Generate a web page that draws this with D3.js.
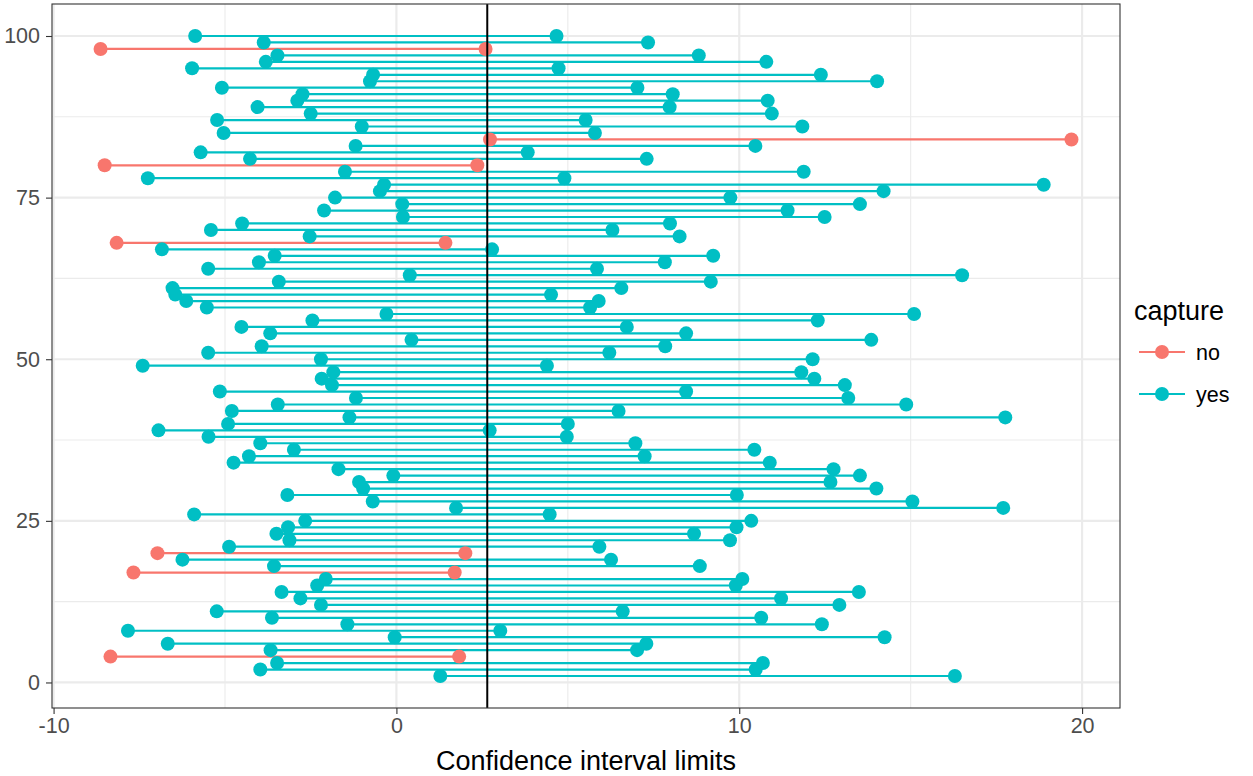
<!DOCTYPE html>
<html><head><meta charset="utf-8">
<script src="https://cdn.jsdelivr.net/npm/d3@7"></script>
<style>body{margin:0;background:#fff}</style>
</head><body>
<svg id="chart" width="1253" height="776"></svg>
<script>
// ---- data ----
const sampleId = [1,2,3,4,5,6,7,8,9,10,11,12,13,14,15,16,17,18,19,20,21,22,23,24,25,26,27,28,29,30,31,32,33,34,35,36,37,38,39,40,41,42,43,44,45,46,47,48,49,50,51,52,53,54,55,56,57,58,59,60,61,62,63,64,65,66,67,68,69,70,71,72,73,74,75,76,77,78,79,80,81,82,83,84,85,86,87,88,89,90,91,92,93,94,95,96,97,98,99,100];
const lower = [1.28,-3.97,-3.48,-8.34,-3.67,-6.67,-0.05,-7.83,-1.43,-3.63,
  -5.24,-2.20,-2.80,-3.35,-2.31,-2.06,-7.67,-3.57,-6.24,-6.97,
  -4.88,-3.12,-3.50,-3.16,-2.66,-5.90,1.74,-0.69,-3.18,-0.97,
  -1.09,-0.09,-1.69,-4.75,-4.30,-2.99,-3.97,-5.48,-6.94,-4.91,
  -1.37,-4.80,-3.46,-1.18,-5.15,-1.88,-2.18,-1.84,-7.40,-2.20,
  -5.49,-3.93,0.44,-3.68,-4.52,-2.45,-0.29,-5.53,-6.13,-6.45,
  -6.53,-3.43,0.39,-5.49,-4.01,-3.55,-6.84,-8.16,-2.53,-5.41,
  -4.50,0.19,-2.11,0.17,-1.79,-0.48,-0.36,-7.25,-1.50,-8.51,
  -4.27,-5.71,-1.19,2.73,-5.04,-1.01,-5.23,-2.50,-4.05,-2.89,
  -2.74,-5.09,-0.77,-0.68,-5.96,-3.81,-3.47,-8.63,-3.87,-5.87];
const upper = [16.29,10.48,10.69,1.83,7.02,7.29,14.24,3.03,12.41,10.64,
  6.60,12.92,11.22,13.49,9.90,10.09,1.70,8.85,6.26,2.01,
  5.92,9.73,8.68,9.92,10.35,4.47,17.70,15.05,9.93,14.00,
  12.66,13.52,12.75,10.89,7.24,10.44,6.97,4.97,2.72,5.00,
  17.76,6.48,14.87,13.18,8.45,13.08,12.19,11.81,4.39,12.14,
  6.21,7.84,13.85,8.45,6.72,12.29,15.10,5.65,5.90,4.51,
  6.56,9.17,16.50,5.85,7.83,9.24,2.79,1.43,8.26,6.30,
  7.98,12.49,11.41,13.52,9.74,14.21,18.88,4.90,11.88,2.36,
  7.30,3.83,10.47,19.69,5.79,11.84,5.52,10.95,7.97,10.83,
  8.06,7.03,14.02,12.38,4.73,10.79,8.82,2.60,7.34,4.67];
const capture = ["yes","yes","yes","no","yes","yes","yes","yes","yes","yes",
  "yes","yes","yes","yes","yes","yes","no","yes","yes","no",
  "yes","yes","yes","yes","yes","yes","yes","yes","yes","yes",
  "yes","yes","yes","yes","yes","yes","yes","yes","yes","yes",
  "yes","yes","yes","yes","yes","yes","yes","yes","yes","yes",
  "yes","yes","yes","yes","yes","yes","yes","yes","yes","yes",
  "yes","yes","yes","yes","yes","yes","yes","no","yes","yes",
  "yes","yes","yes","yes","yes","yes","yes","yes","yes","no",
  "yes","yes","yes","no","yes","yes","yes","yes","yes","yes",
  "yes","yes","yes","yes","yes","yes","yes","no","yes","yes"];
const trueMean = 2.65;
const captureLevels = ["no","yes"];
const captureColors = ["#F8766D","#00BFC4"];
const xTicks = [-10,0,10,20];
const xMinor = [-5,5,15];
const yTicks = [0,25,50,75,100];
const yMinor = [12.5,37.5,62.5,87.5];
const xTitle = "Confidence interval limits";
const legendTitle = "capture";

const rows = sampleId.map((id,i)=>({id, lo:lower[i], hi:upper[i], cap:capture[i]}));

// ---- layout ----
const svg = d3.select("#chart");
const P = {left:52, right:1120, top:4, bottom:708};
const FONT = "'Liberation Sans', Arial, Helvetica, sans-serif";

const xMin = d3.min(lower), xMax = d3.max(upper);
const xPad = (xMax-xMin)*0.05;
const x = d3.scaleLinear().domain([xMin-xPad, xMax+xPad]).range([P.left, P.right]);
const yMinV = d3.min(sampleId), yMaxV = d3.max(sampleId);
const yPad = (yMaxV-yMinV)*0.05;
const y = d3.scaleLinear().domain([yMinV-yPad, yMaxV+yPad]).range([P.bottom, P.top]);
const color = d3.scaleOrdinal().domain(captureLevels).range(captureColors);

// panel background
svg.append("rect").attr("x",P.left).attr("y",P.top).attr("width",P.right-P.left).attr("height",P.bottom-P.top).attr("fill","#fff");

// grid
const grid = svg.append("g");
grid.selectAll(".xmin").data(xMinor).join("line")
  .attr("x1",d=>x(d)).attr("x2",d=>x(d)).attr("y1",P.top).attr("y2",P.bottom)
  .attr("stroke","#EBEBEB").attr("stroke-width",1.1);
grid.selectAll(".ymin").data(yMinor).join("line")
  .attr("y1",d=>y(d)).attr("y2",d=>y(d)).attr("x1",P.left).attr("x2",P.right)
  .attr("stroke","#EBEBEB").attr("stroke-width",1.1);
grid.selectAll(".xmaj").data(xTicks).join("line")
  .attr("x1",d=>x(d)).attr("x2",d=>x(d)).attr("y1",P.top).attr("y2",P.bottom)
  .attr("stroke","#EBEBEB").attr("stroke-width",2.2);
grid.selectAll(".ymaj").data(yTicks).join("line")
  .attr("y1",d=>y(d)).attr("y2",d=>y(d)).attr("x1",P.left).attr("x2",P.right)
  .attr("stroke","#EBEBEB").attr("stroke-width",2.2);

// segments
const marks = svg.append("g");
marks.selectAll("line.seg").data(rows).join("line").attr("class","seg")
  .attr("x1",d=>x(d.lo)).attr("x2",d=>x(d.hi))
  .attr("y1",d=>y(d.id)).attr("y2",d=>y(d.id))
  .attr("stroke",d=>color(d.cap)).attr("stroke-width",2.2);
// points
const pts = rows.flatMap(d=>[{v:d.lo,id:d.id,cap:d.cap},{v:d.hi,id:d.id,cap:d.cap}]);
marks.selectAll("circle").data(pts).join("circle")
  .attr("cx",d=>x(d.v)).attr("cy",d=>y(d.id)).attr("r",7)
  .attr("fill",d=>color(d.cap));

// vertical reference line
svg.append("line").attr("x1",x(trueMean)).attr("x2",x(trueMean))
  .attr("y1",P.top).attr("y2",P.bottom).attr("stroke","#000").attr("stroke-width",2);

// panel border
svg.append("rect").attr("x",P.left).attr("y",P.top).attr("width",P.right-P.left).attr("height",P.bottom-P.top)
  .attr("fill","none").attr("stroke","#333333").attr("stroke-width",1.1);

// axes
const xAxis = d3.axisBottom(x).tickValues(xTicks).tickSize(6).tickPadding(4).tickFormat(d3.format("d"));
const gx = svg.append("g").attr("transform",`translate(0,${P.bottom})`).call(xAxis);
const yAxis = d3.axisLeft(y).tickValues(yTicks).tickSize(6).tickPadding(6).tickFormat(d3.format("d"));
const gy = svg.append("g").attr("transform",`translate(${P.left},0)`).call(yAxis);
[gx,gy].forEach(g=>{
  g.select(".domain").remove();
  g.selectAll(".tick line").attr("stroke","#333333").attr("stroke-width",1.1);
  g.selectAll(".tick text").attr("fill","#4D4D4D").style("font-family",FONT).style("font-size","21.5px");
});
gx.selectAll(".tick text").text(d=>d<0?"-"+Math.abs(d):d);

// x title
svg.append("text").attr("x",(P.left+P.right)/2).attr("y",770).attr("text-anchor","middle")
  .style("font-family",FONT).style("font-size","27px").attr("fill","#000").text(xTitle);

// legend
const lg = svg.append("g");
lg.append("text").attr("x",1134).attr("y",320).style("font-family",FONT).style("font-size","27px").attr("fill","#000").text(legendTitle);
const keys = lg.selectAll("g.key").data(captureLevels).join("g").attr("class","key")
  .attr("transform",(d,i)=>`translate(0,${352+i*42})`);
keys.append("line").attr("x1",1139).attr("x2",1185).attr("stroke",d=>color(d)).attr("stroke-width",2.2);
keys.append("circle").attr("cx",1162).attr("r",7).attr("fill",d=>color(d));
keys.append("text").attr("x",1196).attr("y",7.7).style("font-family",FONT).style("font-size","21.5px").attr("fill","#000").text(d=>d);
</script>
</body></html>
